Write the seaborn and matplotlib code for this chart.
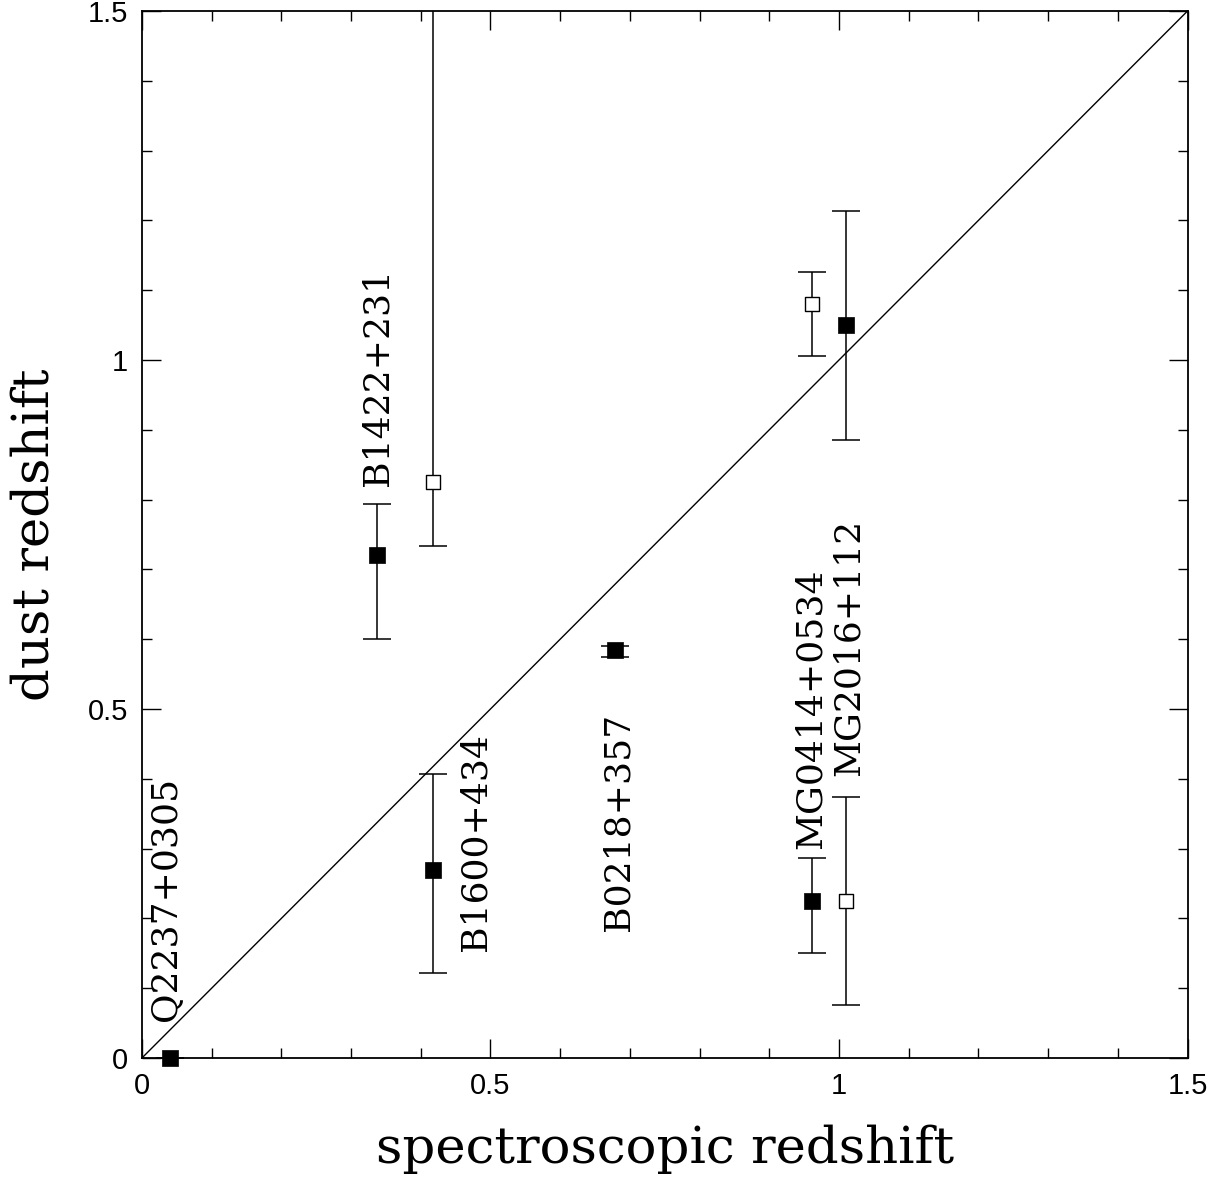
import numpy as np
import pandas as pd
import matplotlib
matplotlib.use("Agg")
import matplotlib.pyplot as plt
import seaborn as sns

# filled squares
filled_x = [0.04, 0.337, 0.417, 0.679, 0.961, 1.010]
filled_y = [0.0, 0.72, 0.269, 0.585, 0.225, 1.050]
filled_lo = [0.0, 0.600, 0.122, 0.575, 0.150, 0.885]
filled_hi = [0.0, 0.794, 0.407, 0.590, 0.287, 1.213]

# open squares
open_x = [0.417, 0.961, 1.010]
open_y = [0.825, 1.080, 0.225]
open_lo = [0.733, 1.006, 0.076]
open_hi = [1.60, 1.126, 0.374]

labels = ["Q2237+0305", "B1422+231", "B1600+434", "B0218+357", "MG0414+0534", "MG2016+112"]
label_x = [0.035, 0.338, 0.479, 0.683, 0.959, 1.014]
label_y = [0.053, 0.82, 0.153, 0.182, 0.30, 0.404]

sns.set_style("ticks")
plt.rcParams['font.family'] = ['Liberation Sans', 'DejaVu Sans']
plt.rcParams['text.color'] = 'black'
plt.rcParams['axes.labelcolor'] = 'black'

fig = plt.figure(figsize=(12.13, 11.84), dpi=100)
ax = fig.add_axes([0.117, 0.1064, 0.862, 0.8843])

# diagonal
ax.plot([0, 1.5], [0, 1.5], color='black', lw=1.0, zorder=1)

fdf = pd.DataFrame({"x": filled_x, "y": filled_y})
odf = pd.DataFrame({"x": open_x, "y": open_y})

ax.errorbar(filled_x, filled_y,
            yerr=[np.array(filled_y) - np.array(filled_lo), np.array(filled_hi) - np.array(filled_y)],
            fmt='none', ecolor='black', elinewidth=1.1, capsize=10, capthick=1.1, zorder=2)
ax.errorbar(open_x, open_y,
            yerr=[np.array(open_y) - np.array(open_lo), np.array(open_hi) - np.array(open_y)],
            fmt='none', ecolor='black', elinewidth=1.1, capsize=10, capthick=1.1, zorder=2)

sns.scatterplot(data=fdf, x="x", y="y", marker='s', s=130, color='black',
                edgecolor='black', linewidth=0.5, ax=ax, zorder=3, clip_on=False)
sns.scatterplot(data=odf, x="x", y="y", marker='s', s=100, color='white',
                edgecolor='black', linewidth=1.0, ax=ax, zorder=3)

for t, x, y in zip(labels, label_x, label_y):
    ax.text(x, y, t, rotation=90, ha='center', va='bottom', fontsize=26,
            family='DejaVu Serif', color='black')

ax.set_xlim(0, 1.5)
ax.set_ylim(0, 1.5)
ax.set_xticks([0, 0.5, 1, 1.5])
ax.set_yticks([0, 0.5, 1, 1.5])
ax.set_xticklabels(['0', '0.5', '1', '1.5'])
ax.set_yticklabels(['0', '0.5', '1', '1.5'])
ax.set_xticks(np.arange(0, 1.51, 0.1), minor=True)
ax.set_yticks(np.arange(0, 1.51, 0.1), minor=True)
ax.tick_params(which='both', direction='in', top=True, right=True, width=1.0,
               color='black', labelcolor='black')
ax.tick_params(which='major', length=14, labelsize=21, pad=10)
ax.tick_params(which='minor', length=7)
for s in ax.spines.values():
    s.set_linewidth(1.3)
    s.set_color('black')

ax.set_xlabel('spectroscopic redshift', fontsize=37, family='DejaVu Serif',
              labelpad=18, color='black')
ax.set_ylabel('dust redshift', fontsize=37, family='DejaVu Serif',
              labelpad=20, color='black')

fig.savefig('out.png', dpi=100)
